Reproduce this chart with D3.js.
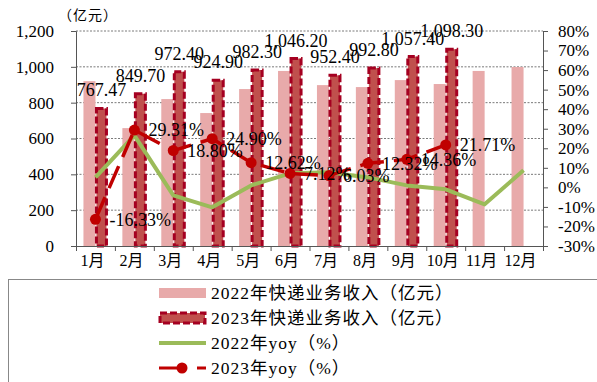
<!DOCTYPE html>
<html>
<head>
<meta charset="utf-8">
<script src="https://cdn.jsdelivr.net/npm/d3@7"></script>
<style>
  body { margin: 0; background: #fff; }
  svg text { font-family: "Liberation Serif", "Noto Sans CJK SC", serif; fill: #000; }
</style>
</head>
<body>
<div id="chart"></div>
<script>
const months = ['1月','2月','3月','4月','5月','6月','7月','8月','9月','10月','11月','12月'];
const rev2022 = [920, 658, 820, 742, 876, 977, 898, 887, 926, 904, 977, 999];
const rev2023 = [767.47, 849.70, 972.40, 924.90, 982.30, 1046.20, 952.40, 992.80, 1057.40, 1098.30];
const yoy2022 = [5.1, 26.6, -4.1, -10.2, 1.0, 7.2, 7.7, 5.1, 1.0, -1.0, -8.7, 8.7];
const yoy2023 = [-16.33, 29.31, 18.80, 24.90, 12.62, 7.12, 6.03, 12.32, 14.36, 21.71];
const leftTicks = [0, 200, 400, 600, 800, 1000, 1200];
const rightTicks = [-30, -20, -10, 0, 10, 20, 30, 40, 50, 60, 70, 80];
const legendLabels = ['2022年快递业务收入（亿元）', '2023年快递业务收入（亿元）', '2022年yoy（%）', '2023年yoy（%）'];

const width = 597, height = 382;
const plotLeft = 76, plotRight = 543, plotTop = 31, plotBottom = 246;

const c2022 = '#E8AAAA', c2023 = '#C0504D', c2023Edge = '#A50021';
const cGreen = '#9BBB59', cRed = '#C00000';

const svg = d3.select('#chart').append('svg')
  .attr('width', width)
  .attr('height', height);

svg.append('rect').attr('width', width).attr('height', height).attr('fill', '#fff');

// scales
const x0 = d3.scaleBand().domain(months).range([plotLeft, plotRight])
  .paddingInner(0.383).paddingOuter(0.1915);
const x1 = d3.scaleBand().domain(['2022', '2023']).range([0, x0.bandwidth()]);
const xb = d3.scaleLinear().domain([0, 12]).range([plotLeft, plotRight]);
const yL = d3.scaleLinear().domain([0, 1200]).range([plotBottom, plotTop]);
const yR = d3.scaleLinear().domain([-30, 80]).range([plotBottom, plotTop]);
const cx = i => x0(months[i]) + x0.bandwidth() / 2;

// gridlines
svg.append('g')
  .selectAll('line')
  .data(leftTicks.filter(d => d > 0))
  .enter().append('line')
  .attr('x1', plotLeft).attr('x2', plotRight)
  .attr('y1', d => yL(d)).attr('y2', d => yL(d))
  .attr('stroke', '#7a7a7a')
  .attr('stroke-dasharray', '2,1.5');

// 2022 bars
svg.append('g')
  .selectAll('rect')
  .data(rev2022)
  .enter().append('rect')
  .attr('x', (d, i) => x0(months[i]) + x1('2022'))
  .attr('y', d => yL(d))
  .attr('width', x1.bandwidth())
  .attr('height', d => plotBottom - yL(d))
  .attr('fill', c2022);

// 2023 bars
svg.append('g')
  .selectAll('rect')
  .data(rev2023)
  .enter().append('rect')
  .attr('x', (d, i) => x0(months[i]) + x1('2023') + 1)
  .attr('y', d => yL(d))
  .attr('width', x1.bandwidth() - 2)
  .attr('height', d => plotBottom - yL(d))
  .attr('fill', c2023)
  .attr('stroke', c2023Edge)
  .attr('stroke-width', 3)
  .attr('stroke-dasharray', '7,3');

// axes
const axisColor = '#555';
const gL = svg.append('g')
  .attr('transform', `translate(${plotLeft},0)`)
  .call(d3.axisLeft(yL).tickValues(leftTicks).tickFormat(d3.format(',')).tickSize(5).tickPadding(17));
const gR = svg.append('g')
  .attr('transform', `translate(${plotRight},0)`)
  .call(d3.axisRight(yR).tickValues(rightTicks).tickFormat(d => d + '%').tickSize(5).tickPadding(10));
const gB = svg.append('g')
  .attr('transform', `translate(0,${plotBottom})`)
  .call(d3.axisBottom(xb).ticks(12).tickFormat('').tickSize(5).tickSizeOuter(0));
const gM = svg.append('g')
  .attr('transform', `translate(-3,${plotBottom})`)
  .call(d3.axisBottom(x0).tickSize(0).tickPadding(9));
gM.select('.domain').remove();

[gL, gR, gB].forEach(g => {
  g.selectAll('.domain').attr('stroke', axisColor);
  g.selectAll('.tick line').attr('stroke', axisColor);
});
gL.selectAll('text').attr('font-size', 17);
gR.selectAll('text').attr('font-size', 17);
gM.selectAll('text').attr('font-size', 16);
svg.selectAll('.tick text').attr('font-family', '"Liberation Serif", "Noto Sans CJK SC", serif').attr('fill', '#000');

// 2022 yoy line
const line2022 = d3.line().x((d, i) => cx(i)).y(d => yR(d));
svg.append('path')
  .datum(yoy2022)
  .attr('d', line2022)
  .attr('fill', 'none')
  .attr('stroke', cGreen)
  .attr('stroke-width', 4)
  .attr('stroke-linejoin', 'round');

// 2023 yoy line, dashed with markers
const line2023 = d3.line().x((d, i) => cx(i)).y(d => yR(d));
svg.append('path')
  .datum(yoy2023)
  .attr('d', line2023)
  .attr('fill', 'none')
  .attr('stroke', cRed)
  .attr('stroke-width', 3.5)
  .attr('stroke-dasharray', '24,10');
svg.append('g')
  .selectAll('circle')
  .data(yoy2023)
  .enter().append('circle')
  .attr('cx', (d, i) => cx(i))
  .attr('cy', d => yR(d))
  .attr('r', 5.5)
  .attr('fill', cRed);

// bar value labels
svg.append('g')
  .selectAll('text')
  .data(rev2023)
  .enter().append('text')
  .attr('x', (d, i) => x0(months[i]) + x1('2023') + x1.bandwidth() / 2)
  .attr('y', d => yL(d) - 12)
  .attr('text-anchor', 'middle')
  .attr('font-size', 18)
  .text(d => d3.format(',.2f')(d));

// yoy labels (plain hyphen for negatives, as in the source)
svg.append('g')
  .selectAll('text')
  .data(yoy2023)
  .enter().append('text')
  .attr('x', (d, i) => cx(i) + 14)
  .attr('y', d => yR(d))
  .attr('dy', '0.35em')
  .attr('font-size', 18)
  .text(d => d.toFixed(2) + '%');

// unit label
svg.append('text')
  .attr('x', 58).attr('y', 20)
  .attr('font-size', 14)
  .attr('letter-spacing', 1)
  .attr('font-family', '"Noto Sans CJK SC", sans-serif')
  .text('（亿元）');

// legend
svg.append('rect')
  .attr('x', 8.5).attr('y', 279.5)
  .attr('width', 700).attr('height', 200)
  .attr('fill', 'none')
  .attr('stroke', '#888');

const legendY = [293, 318, 343, 368];
const lg = svg.append('g');
lg.append('rect').attr('x', 159).attr('y', legendY[0] - 5).attr('width', 47).attr('height', 10).attr('fill', c2022);
lg.append('rect').attr('x', 160).attr('y', legendY[1] - 5).attr('width', 45).attr('height', 10)
  .attr('fill', c2023).attr('stroke', c2023Edge).attr('stroke-width', 3).attr('stroke-dasharray', '7,3');
lg.append('line').attr('x1', 159).attr('x2', 206).attr('y1', legendY[2]).attr('y2', legendY[2])
  .attr('stroke', cGreen).attr('stroke-width', 4);
lg.append('line').attr('x1', 159).attr('x2', 206).attr('y1', legendY[3]).attr('y2', legendY[3])
  .attr('stroke', cRed).attr('stroke-width', 3).attr('stroke-dasharray', '22,16,10');
lg.append('circle').attr('cx', 182).attr('cy', legendY[3]).attr('r', 5.5).attr('fill', cRed);

lg.selectAll('text')
  .data(legendLabels)
  .enter().append('text')
  .attr('x', 211)
  .attr('y', (d, i) => legendY[i])
  .attr('dy', '0.35em')
  .attr('font-size', 17.5)
  .attr('letter-spacing', 1)
  .text(d => d);
</script>
</body>
</html>
